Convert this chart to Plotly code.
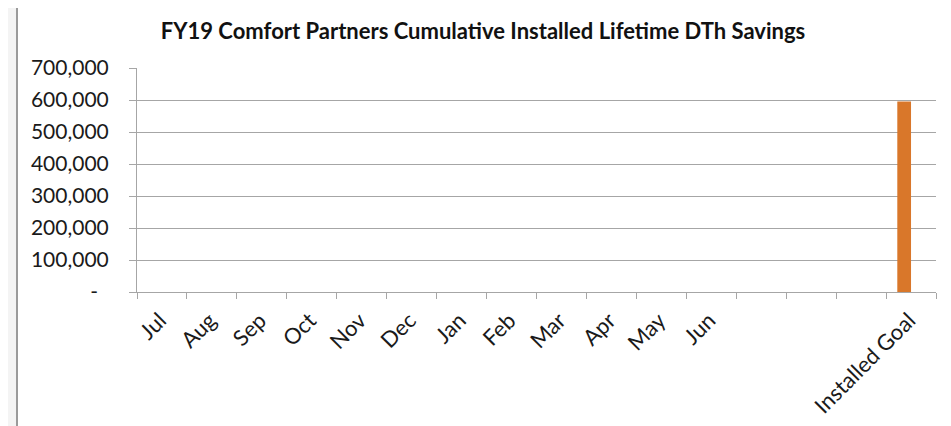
import plotly.graph_objects as go

categories = ['Jul', 'Aug', 'Sep', 'Oct', 'Nov', 'Dec', 'Jan', 'Feb', 'Mar', 'Apr', 'May', 'Jun',
              ' ', '  ', '   ', 'Installed Goal']
goal_dth = [None, None, None, None, None, None, None, None, None, None, None, None,
            None, None, None, 595000]
installed_dth = [None, None, None, None, None, None, None, None, None, None, None, None,
                 None, None, None, None]
y_ticks = [0, 100000, 200000, 300000, 400000, 500000, 600000, 700000]
y_labels = ['-\u00a0\u00a0', '100,000', '200,000', '300,000', '400,000', '500,000', '600,000', '700,000']

FONT = 'Lato'
GRID = '#a6a6a6'

fig = go.Figure()
fig.add_trace(go.Bar(x=categories, y=goal_dth, name='Installed Goal',
                     marker=dict(color='#d9772a', line=dict(width=0))))
fig.add_trace(go.Bar(x=categories, y=installed_dth, name='Cumulative Installed',
                     marker=dict(color='#4f81bd')))

# white chart box with grey border on a light grey page
fig.add_shape(type='rect', xref='paper', yref='paper',
              x0=-0.1502, x1=1.014, y0=-0.62, y1=1.29,
              fillcolor='white', line=dict(color='#9a9a9a', width=2), layer='below')

# page body adds 8px on top/left, so the figure is 943x418
fig.update_layout(
    width=943, height=418,
    margin=dict(l=129, r=15, t=60, b=134),
    paper_bgcolor='#f4f4f4', plot_bgcolor='rgba(0,0,0,0)',
    showlegend=False, barmode='group', bargap=0.45, bargroupgap=0,
    font=dict(family=FONT, color='#1a1a1a'),
    title=dict(text='<b>FY19 Comfort Partners Cumulative Installed Lifetime DTh Savings</b>',
               x=475 / 943, xanchor='center', y=1 - 23 / 418, yanchor='middle',
               font=dict(family=FONT, size=22, color='#111111')),
)
fig.update_xaxes(type='category', categoryorder='array', categoryarray=categories,
                 tickangle=-45, tickson='boundaries', ticks='outside', ticklen=6,
                 tickcolor=GRID, showline=True, linecolor=GRID, linewidth=1,
                 showgrid=False, automargin=False, ticklabelstandoff=6, ticklabelshift=-2,
                 tickfont=dict(family=FONT, size=22, color='#1a1a1a'))
fig.update_yaxes(range=[0, 700000], tickvals=y_ticks, ticktext=y_labels,
                 ticks='outside', ticklen=7, tickcolor=GRID, ticklabelstandoff=16,
                 showline=True, linecolor=GRID, linewidth=1,
                 showgrid=True, gridcolor=GRID, gridwidth=1, zeroline=False,
                 automargin=False,
                 tickfont=dict(family=FONT, size=21, color='#1a1a1a'))

fig.write_html("out.html")
